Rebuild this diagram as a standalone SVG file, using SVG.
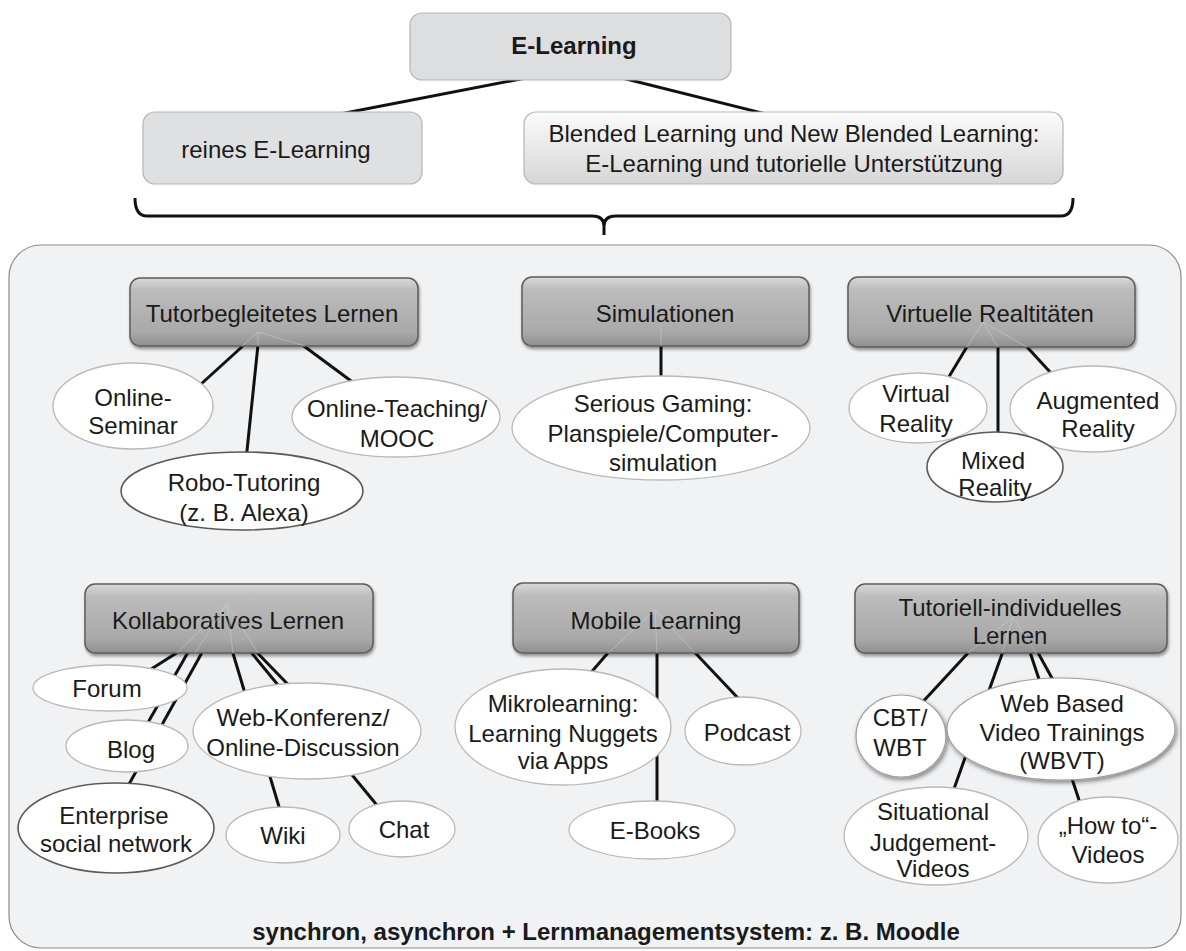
<svg xmlns="http://www.w3.org/2000/svg" width="1186" height="951" viewBox="0 0 1186 951">
  <defs>
    <linearGradient id="catFill" x1="0" y1="0" x2="0" y2="1">
      <stop offset="0" stop-color="#d9d9d9"/>
      <stop offset="0.18" stop-color="#bcbcbc"/>
      <stop offset="0.8" stop-color="#a9a9a9"/>
      <stop offset="1" stop-color="#8f8f8f"/>
    </linearGradient>
    <linearGradient id="blendFill" x1="0" y1="0" x2="0" y2="1">
      <stop offset="0" stop-color="#fbfbfb"/>
      <stop offset="1" stop-color="#d6d6d6"/>
    </linearGradient>
    <filter id="boxShadow" x="-10%" y="-20%" width="120%" height="150%">
      <feDropShadow dx="1" dy="2.5" stdDeviation="1.6" flood-color="#000" flood-opacity="0.4"/>
    </filter>
    <filter id="ovalShadow" x="-15%" y="-15%" width="130%" height="140%">
      <feDropShadow dx="1.5" dy="2.5" stdDeviation="2" flood-color="#000" flood-opacity="0.45"/>
    </filter>
    <style>
      text { font-family: "Liberation Sans", Arial, sans-serif; font-size: 24px; fill: #1a1a1a; text-anchor: middle; }
      .bold { font-weight: bold; }
      .top { stroke: #b5b5b5; stroke-width: 1.2; }
      .cat { fill: url(#catFill); stroke: #5c5c5c; stroke-width: 1.5; filter: url(#boxShadow); }
      .oval { fill: #ffffff; stroke: #b9b9b9; stroke-width: 1.3; }
      .oval-dark { fill: #ffffff; stroke: #5a5a5a; stroke-width: 1.6; }
      .oval-shadow { fill: #ffffff; stroke: #a0a0a0; stroke-width: 1.2; filter: url(#ovalShadow); }
      .link { stroke: #111; stroke-width: 3; fill: none; stroke-linecap: butt; }
      .trace { stroke: #d6d6d6; stroke-width: 1; fill: none; opacity: 0.45; }
    </style>
  </defs>

  <!-- page background -->
  <rect x="0" y="0" width="1186" height="951" fill="#ffffff"/>

  <!-- frame holding all learning forms -->
  <rect id="frame" x="9" y="245" width="1172" height="703" rx="32" fill="#f1f2f4" stroke="#8c8c8c" stroke-width="1.2"/>

  <!-- connectors -->
  <g id="connectors" class="link">
    <line x1="567" y1="70" x2="309" y2="120"/>
    <line x1="590" y1="70" x2="790" y2="120"/>
    <!-- brace -->
    <path d="M135,198 Q135,216 147,216 L592,216 Q604,216 604,226 L604,235 M604,226 Q604,216 616,216 L1061,216 Q1073,216 1073,198"/>

    <!-- Tutorbegleitetes Lernen -->
    <line x1="255" y1="335" x2="189" y2="395"/>
    <line x1="259" y1="335" x2="245" y2="470"/>
    <line x1="289" y1="335" x2="370" y2="395"/>
    <!-- Simulationen -->
    <line x1="661" y1="340" x2="661" y2="390"/>
    <!-- Virtuelle Realtitaeten -->
    <line x1="974" y1="335" x2="941" y2="390"/>
    <line x1="998" y1="340" x2="998" y2="450"/>
    <line x1="1016" y1="335" x2="1062" y2="385"/>

    <!-- Kollaboratives Lernen -->
    <line x1="197" y1="640" x2="145" y2="673"/>
    <line x1="195" y1="640" x2="138" y2="740"/>
    <line x1="209" y1="640" x2="123" y2="795"/>
    <line x1="229" y1="640" x2="283" y2="820"/>
    <line x1="241" y1="640" x2="385" y2="815"/>
    <line x1="245" y1="640" x2="303" y2="700"/>
    <!-- Mobile Learning -->
    <line x1="619" y1="640" x2="576" y2="690"/>
    <line x1="657" y1="640" x2="657" y2="815"/>
    <line x1="683" y1="640" x2="754" y2="715"/>
    <!-- Tutoriell-individuelles Lernen -->
    <line x1="980" y1="640" x2="906" y2="720"/>
    <line x1="1007" y1="640" x2="950" y2="800"/>
    <line x1="1026" y1="640" x2="1084" y2="815"/>
    <line x1="1031" y1="640" x2="1064" y2="700"/>
  </g>

  <!-- top level -->
  <g id="e-learning">
    <rect class="top" x="410" y="13" width="321" height="67" rx="12" fill="#dddee0"/>
    <text class="bold" x="574" y="54">E-Learning</text>
  </g>
  <g id="reines-e-learning">
    <rect class="top" x="143" y="112" width="279" height="72" rx="12" fill="#dfe0e2" stroke="#cfcfcf"/>
    <text x="276" y="158">reines E-Learning</text>
  </g>
  <g id="blended-learning">
    <rect class="top" x="524" y="112" width="539" height="72" rx="12" fill="url(#blendFill)"/>
    <text x="794" y="141.5">Blended Learning und New Blended Learning:</text>
    <text x="794" y="171.5">E-Learning und tutorielle Unterstützung</text>
  </g>

  <!-- categories, upper row -->
  <g id="tutorbegleitet">
    <rect class="cat" x="130" y="278" width="288" height="68" rx="10"/>
    <text x="272" y="321.5">Tutorbegleitetes Lernen</text>
  </g>
  <g id="simulationen">
    <rect class="cat" x="522" y="277" width="287" height="69" rx="10"/>
    <text x="665" y="321.5">Simulationen</text>
  </g>
  <g id="virtuelle-realitaeten">
    <rect class="cat" x="848" y="277" width="287" height="70" rx="10"/>
    <text x="990" y="321.5">Virtuelle Realtitäten</text>
  </g>

  <!-- categories, lower row -->
  <g id="kollaborativ">
    <rect class="cat" x="85" y="584" width="288" height="69" rx="10"/>
    <text x="228" y="628.5">Kollaboratives Lernen</text>
  </g>
  <g id="mobile-learning">
    <rect class="cat" x="513" y="583" width="286" height="70" rx="10"/>
    <text x="656" y="628.5">Mobile Learning</text>
  </g>
  <g id="tutoriell-individuell">
    <rect class="cat" x="855" y="584" width="312" height="69" rx="10"/>
    <text x="1010" y="615.5">Tutoriell-individuelles</text>
    <text x="1010" y="643.5">Lernen</text>
  </g>

  <!-- faint traces of the connectors showing through the category boxes -->
  <g id="connector-traces" class="trace">
    <line x1="258" y1="332" x2="242" y2="346"/>
    <line x1="258" y1="332" x2="258" y2="346"/>
    <line x1="258" y1="332" x2="305" y2="346"/>
    <line x1="661" y1="325" x2="661" y2="346"/>
    <line x1="983" y1="322" x2="967" y2="347"/>
    <line x1="983" y1="322" x2="998" y2="347"/>
    <line x1="983" y1="322" x2="1027" y2="347"/>
    <line x1="227" y1="604" x2="177" y2="653"/>
    <line x1="227" y1="604" x2="195" y2="653"/>
    <line x1="227" y1="604" x2="233" y2="653"/>
    <line x1="227" y1="604" x2="258" y2="653"/>
    <line x1="655" y1="610" x2="608" y2="653"/>
    <line x1="655" y1="610" x2="657" y2="653"/>
    <line x1="655" y1="610" x2="695" y2="653"/>
    <line x1="1013" y1="617" x2="968" y2="653"/>
    <line x1="1013" y1="617" x2="1002" y2="653"/>
    <line x1="1013" y1="617" x2="1036" y2="653"/>
  </g>

  <!-- items: Tutorbegleitetes Lernen -->
  <g id="online-seminar">
    <ellipse class="oval" cx="133" cy="406" rx="80" ry="43"/>
    <text x="133" y="405.5">Online-</text>
    <text x="133" y="433.5">Seminar</text>
  </g>
  <g id="online-teaching">
    <ellipse class="oval" cx="396" cy="417" rx="104" ry="40"/>
    <text x="397" y="416.5">Online-Teaching/</text>
    <text x="397" y="446.5">MOOC</text>
  </g>
  <g id="robo-tutoring">
    <ellipse class="oval-dark" cx="242" cy="491" rx="121" ry="39" stroke="#777"/>
    <text x="244" y="490.5">Robo-Tutoring</text>
    <text x="244" y="520.5">(z. B. Alexa)</text>
  </g>

  <!-- items: Simulationen -->
  <g id="serious-gaming">
    <ellipse class="oval" cx="661" cy="428" rx="149" ry="52"/>
    <text x="663" y="411.5">Serious Gaming:</text>
    <text x="663" y="441.5">Planspiele/Computer-</text>
    <text x="663" y="470.5">simulation</text>
  </g>

  <!-- items: Virtuelle Realtitaeten -->
  <g id="virtual-reality">
    <ellipse class="oval" cx="918" cy="408" rx="69" ry="35"/>
    <text x="916" y="401.5">Virtual</text>
    <text x="916" y="431.5">Reality</text>
  </g>
  <g id="augmented-reality">
    <ellipse class="oval" cx="1093" cy="409" rx="83" ry="43"/>
    <text x="1098" y="408.5">Augmented</text>
    <text x="1098" y="436.5">Reality</text>
  </g>
  <g id="mixed-reality">
    <ellipse class="oval-dark" cx="995" cy="467" rx="68" ry="35" stroke="#6a6a6a"/>
    <text x="993" y="468.5">Mixed</text>
    <text x="995" y="496">Reality</text>
  </g>

  <!-- items: Kollaboratives Lernen -->
  <g id="forum">
    <ellipse class="oval" cx="110" cy="688" rx="77" ry="23"/>
    <text x="107" y="696.5">Forum</text>
  </g>
  <g id="blog">
    <ellipse class="oval" cx="127" cy="746" rx="61" ry="26"/>
    <text x="131" y="758">Blog</text>
  </g>
  <g id="web-konferenz">
    <ellipse class="oval" cx="307" cy="731" rx="114" ry="48"/>
    <text x="303" y="725.5">Web-Konferenz/</text>
    <text x="303" y="755.5">Online-Discussion</text>
  </g>
  <g id="enterprise-social-network">
    <ellipse class="oval-dark" cx="116" cy="828" rx="98" ry="45"/>
    <text x="114" y="823.5">Enterprise</text>
    <text x="116" y="851.5">social network</text>
  </g>
  <g id="wiki">
    <ellipse class="oval" cx="283" cy="835" rx="57" ry="28"/>
    <text x="283" y="843.5">Wiki</text>
  </g>
  <g id="chat">
    <ellipse class="oval" cx="402" cy="829" rx="53" ry="28"/>
    <text x="404" y="837.5">Chat</text>
  </g>

  <!-- items: Mobile Learning -->
  <g id="mikrolearning">
    <ellipse class="oval" cx="563" cy="727" rx="108" ry="58"/>
    <text x="563" y="711.5">Mikrolearning:</text>
    <text x="563" y="741.5">Learning Nuggets</text>
    <text x="563" y="768.5">via Apps</text>
  </g>
  <g id="podcast">
    <ellipse class="oval" cx="743" cy="731" rx="58" ry="34"/>
    <text x="747" y="740.5">Podcast</text>
  </g>
  <g id="e-books">
    <ellipse class="oval" cx="652" cy="830" rx="83" ry="29"/>
    <text x="655" y="838.5">E-Books</text>
  </g>

  <!-- items: Tutoriell-individuelles Lernen -->
  <g id="cbt-wbt">
    <ellipse class="oval-shadow" cx="901" cy="736" rx="45" ry="41"/>
    <text x="900" y="725.5">CBT/</text>
    <text x="900" y="755.5">WBT</text>
  </g>
  <g id="wbvt">
    <ellipse class="oval-shadow" cx="1061" cy="729" rx="114" ry="51"/>
    <text x="1062" y="711.5">Web Based</text>
    <text x="1062" y="740.5">Video Trainings</text>
    <text x="1062" y="768.5">(WBVT)</text>
  </g>
  <g id="situational-judgement">
    <ellipse class="oval" cx="936" cy="836" rx="92" ry="49"/>
    <text x="933" y="819.5">Situational</text>
    <text x="933" y="850.5">Judgement-</text>
    <text x="933" y="876.5">Videos</text>
  </g>
  <g id="how-to-videos">
    <ellipse class="oval" cx="1108" cy="840" rx="70" ry="43"/>
    <text x="1108" y="833.5">„How to“-</text>
    <text x="1108" y="862.5">Videos</text>
  </g>

  <!-- caption inside the frame -->
  <text class="bold" x="606" y="940">synchron, asynchron + Lernmanagementsystem: z. B. Moodle</text>
</svg>
